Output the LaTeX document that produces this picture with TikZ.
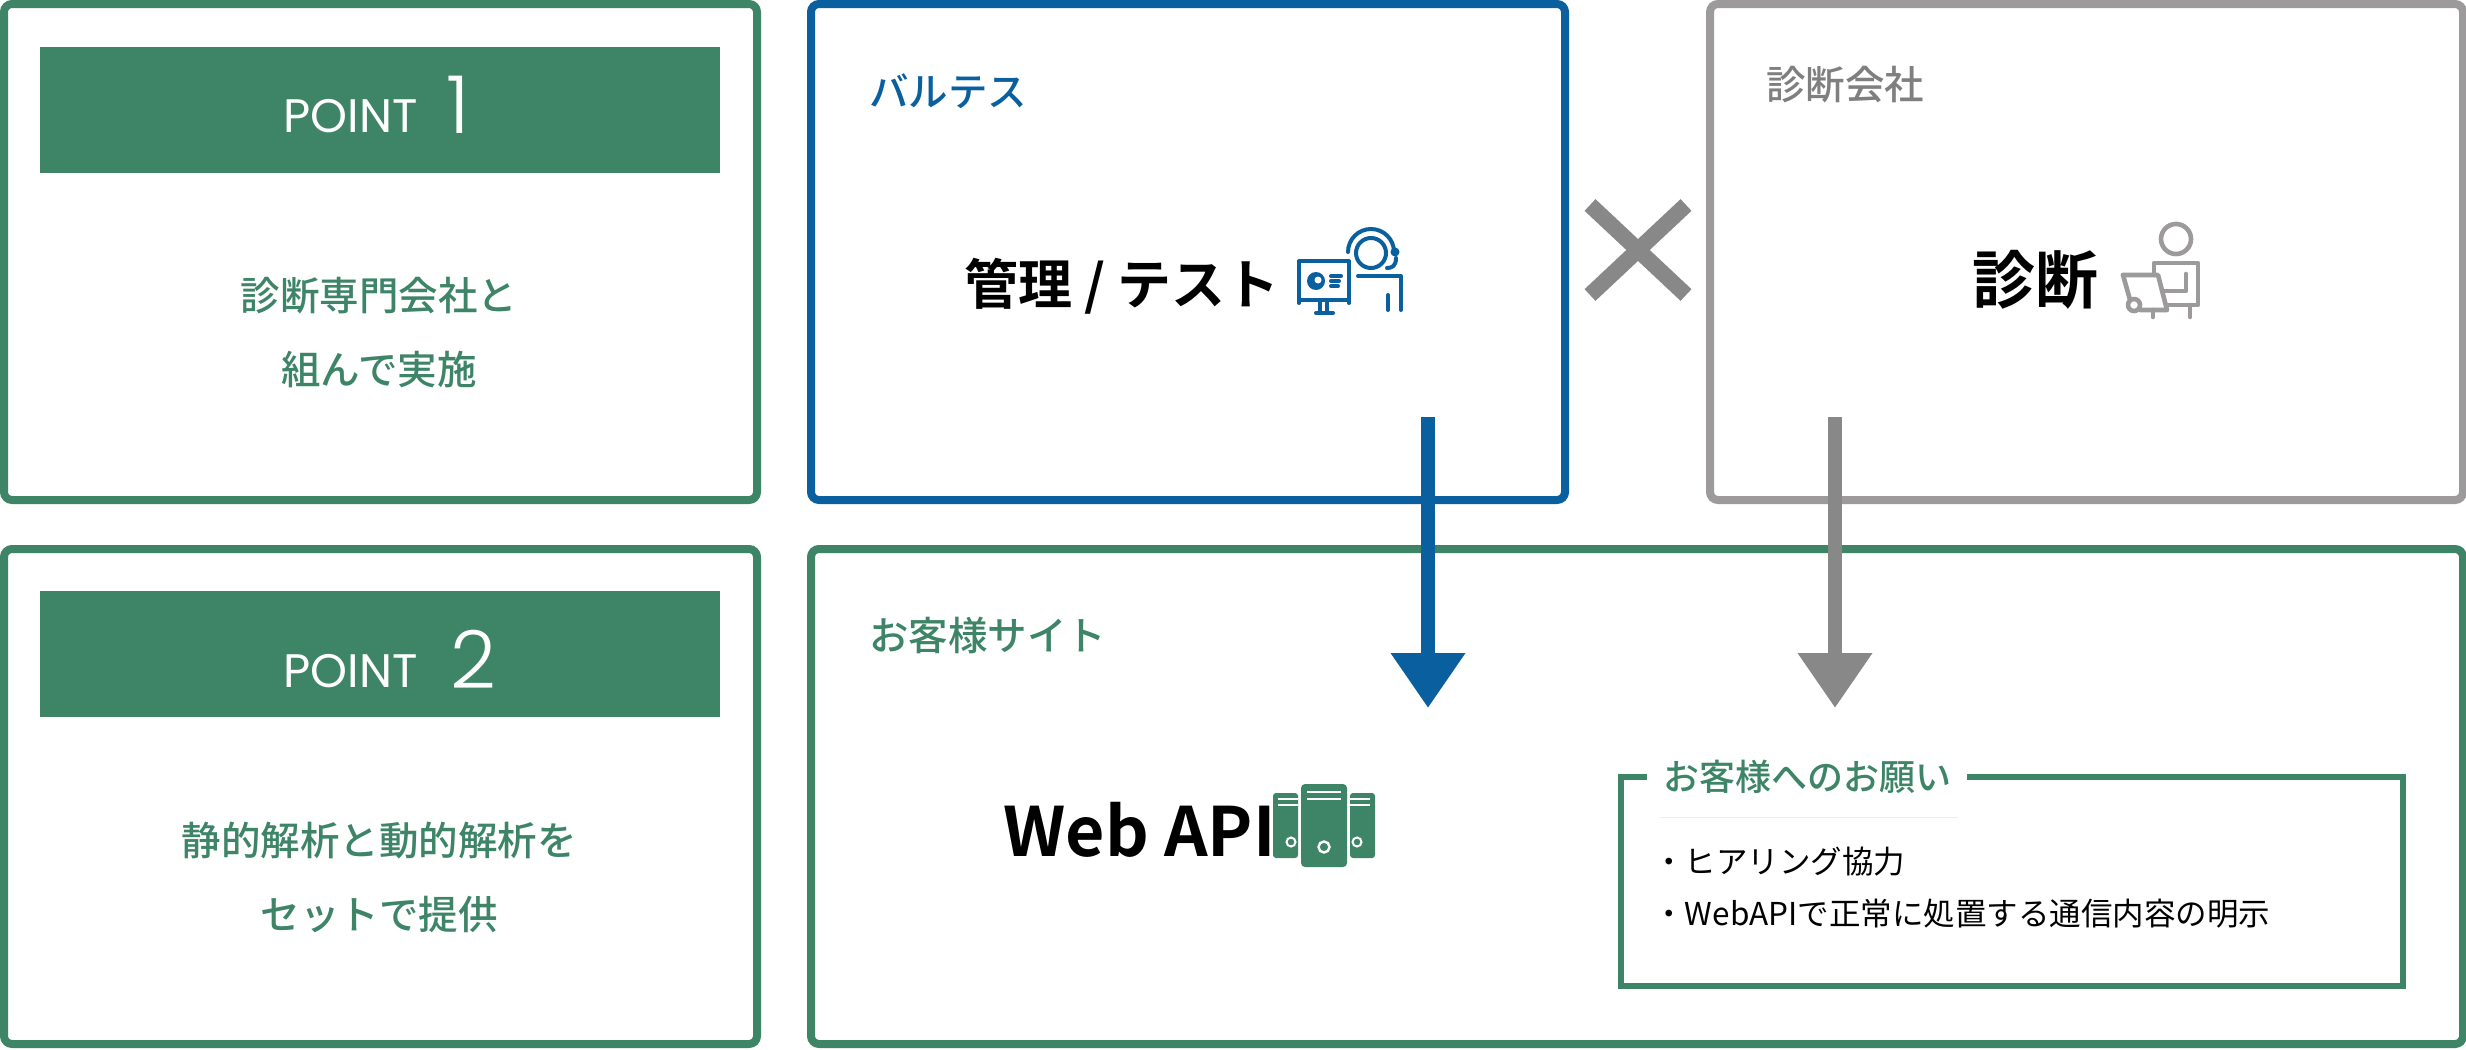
\documentclass[tikz,border=0pt]{standalone}
\usepackage{fontspec}
\usetikzlibrary{arrows.meta}
\setmainfont{Noto Sans CJK JP}
\newfontfamily\cjkm{Noto Sans CJK JP Medium}
\newfontfamily\cjkb{Noto Sans CJK JP Bold}
\newfontfamily\pop{Poppins}
\newfontfamily\popl{Poppins Light}
\definecolor{grn}{HTML}{3E8568}
\definecolor{blu}{HTML}{0A5F9F}
\definecolor{gbox}{HTML}{9C9A9A}
\definecolor{gtxt}{HTML}{7F7F7F}
\definecolor{garr}{HTML}{888888}
\newcommand{\fs}[1]{\fontsize{#1}{#1}\selectfont}
\tikzset{
 x=0.5pt,y=-0.5pt,
 frame/.style={draw=#1,line width=4pt,rounded corners=4pt,fill=none,inner sep=0,outer sep=0},
 head/.style={fill=grn,inner sep=0,outer sep=0,minimum width=340pt,minimum height=63pt},
 ptxt/.style={text=white,inner sep=0,anchor=base west},
 gt/.style={text=grn,inner sep=0,font=\cjkm\fs{19.75}},
 boxlabel/.style={inner sep=0,anchor=west,font=\cjkm\fs{19.75}},
 bigl/.style={inner sep=0,anchor=west,text=black,font=\cjkb\fs{27}},
 item/.style={inner sep=0,anchor=west,text=black,font=\fs{15.75}},
 flow/.style={line width=7pt,-{Triangle[width=35.5pt,length=27.5pt]}},
 ico/.style={line width=2pt,line cap=round,line join=round,fill=none},
}
\begin{document}
\begin{tikzpicture}
\useasboundingbox (0,0) rectangle (2466,1049);
\fill[white] (0,0) rectangle (2466,1049);
% frames
\node[frame=grn,minimum width=376.5pt,minimum height=248pt] (p1) at (380.5,252) {};
\node[frame=grn,minimum width=376.5pt,minimum height=247.5pt] (p2) at (380.5,796.5) {};
\node[frame=blu,minimum width=377pt,minimum height=248pt] (ba) at (1188,252) {};
\node[frame=gbox,minimum width=376.5pt,minimum height=248pt] (di) at (2086.5,252) {};
\node[frame=grn,minimum width=826pt,minimum height=247.5pt] (si) at (1637,796.5) {};
% headers
\node[head] (h1) at (380,110) {};
\node[head] (h2) at (380,654) {};
\node[ptxt,font=\pop\fs{23.5}] (pa) at (283,132) {POINT};
\node[ptxt,font=\popl\fs{40}] (pb) at (446,133) {1};
\node[ptxt,font=\pop\fs{23.5}] (pc) at (283,687) {POINT};
\node[ptxt,font=\popl\fs{40}] (pd) at (450,688) {2};
% left text
\node[gt] (t1) at (379,296) {診断専門会社と};
\node[gt] (t2) at (379,370) {組んで実施};
\node[gt] (t3) at (379,841) {静的解析と動的解析を};
\node[gt] (t4) at (379,914) {セットで提供};
% labels
\node[boxlabel,text=blu] (l1) at (869,91) {バルテス};
\node[boxlabel,text=gtxt] (l2) at (1766,85) {診断会社};
\node[boxlabel,text=grn] (l3) at (869,635) {お客様サイト};
\node[bigl] (b1) at (964,286) {管理 / テスト};
\node[bigl,font=\cjkb\fs{31.5}] (b2) at (1972,280) {診断};
\node[bigl,font=\cjkb\fs{34}] (b3) at (1003,830) {Web API};
% cross
\coordinate (xa) at (1590,205); \coordinate (xb) at (1686,295);
\coordinate (xc) at (1686,205); \coordinate (xd) at (1590,295);
\draw[garr,line width=8pt] (xa) -- (xb) (xc) -- (xd);
% request box
\node[draw=grn,line width=3pt,inner sep=0,outer sep=0,minimum width=391pt,minimum height=104.5pt] (rq) at (2012,881.5) {};
\node[fill=white,inner sep=0,minimum width=160pt,minimum height=24pt,text=grn,font=\cjkm\fs{18}] (rt) at (1807,777) {お客様へのお願い};
\coordinate (ra) at (1660,817); \coordinate (rb) at (1958,817);
\draw[black!7,line width=0.5pt] (ra) -- (rb);
\node[item] (i1) at (1653,862) {・ヒアリング協力};
\node[item] (i2) at (1653,914) {・WebAPIで正常に処置する通信内容の明示};
% arrows
\coordinate (a1s) at (1428,417); \coordinate (a1e) at (1428,708);
\coordinate (a2s) at (1835,417); \coordinate (a2e) at (1835,708);
\draw[flow,draw=blu,fill=blu] (a1s) -- (a1e);
\draw[flow,draw=garr,fill=garr] (a2s) -- (a2e);
% icon blue
\begin{scope}[ico,draw=blu]
\draw (1299,303) -- (1299,261) -- (1349,261) -- (1349,303);
\draw (1299,300) -- (1349,300);
\draw (1320,301) -- (1320,313) (1327,301) -- (1327,313) (1316,313) -- (1333,313);
\fill[blu] (1316,281) circle[radius=9];
\fill[white] (1318,280) circle[radius=3.5];
\draw (1331,276) -- (1341,276) (1331,281) -- (1339,281) (1331,286) -- (1338,286);
\draw (1371,253) circle[radius=15];
\draw (1348,252) arc[start angle=180,end angle=0,radius=23,y radius=-23];
\fill[blu] (1395,252) circle[radius=4.5];
\draw (1396,258) .. controls (1396,266) and (1392,268) .. (1387,268);
\draw (1358,276) -- (1396,276) -- (1401,276) -- (1401,310);
\draw (1388,295) -- (1388,310);
\end{scope}
% icon gray
\begin{scope}[ico,draw=gbox,line width=2.3pt]
\draw (2176,239) circle[radius=15];
\draw (2154,275) -- (2154,263) -- (2198,263) -- (2198,305) -- (2167,305);
\draw (2186,274) -- (2186,291) -- (2162,291);
\draw (2123,275) -- (2158,275) -- (2167,310) -- (2140,310);
\draw (2123,275) -- (2130,300);
\draw (2134,305) circle[radius=6];
\draw (2153,310) -- (2153,317) (2190,305) -- (2190,317);
\end{scope}
% icon servers
\fill[grn,rounded corners=1.5pt] (1273,793) rectangle (1298,858);
\fill[grn,rounded corners=1.5pt] (1350,793) rectangle (1375,858);
\fill[grn,rounded corners=2pt] (1301,784) rectangle (1347,867);
\begin{scope}[white,line width=1pt]
\draw (1307,792) -- (1341,792) (1307,799) -- (1341,799);
\draw (1278,799) -- (1298,799) (1278,805) -- (1298,805);
\draw (1350,799) -- (1370,799) (1350,805) -- (1370,805);
\draw[line width=1.2pt] (1324,847) circle[radius=5.5];
\draw (1291,842) circle[radius=4.5] (1357,842) circle[radius=4.5];
\end{scope}
\end{tikzpicture}
\end{document}
